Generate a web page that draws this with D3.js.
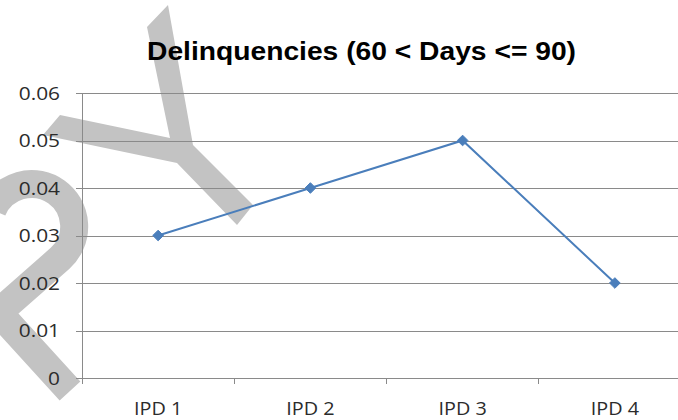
<!DOCTYPE html>
<html>
<head>
<meta charset="utf-8">
<script src="https://cdn.jsdelivr.net/npm/d3@7/dist/d3.min.js"></script>
<style>
  html, body { margin: 0; padding: 0; background: #fff; }
  svg { display: block; }
</style>
</head>
<body>
<svg id="chart" width="678" height="420"></svg>
<script>
const title = "Delinquencies (60 < Days <= 90)";
const categories = ["IPD 1", "IPD 2", "IPD 3", "IPD 4"];
const values = [0.03, 0.04, 0.05, 0.02];
const yTicks = [0, 0.01, 0.02, 0.03, 0.04, 0.05, 0.06];
const yTickLabels = ["0", "0.01", "0.02", "0.03", "0.04", "0.05", "0.06"];

(function () {
const svg = d3.select("#chart");
const W = 678, H = 420;
const pLeft = 82, pRight = 691, pTop = 93, pBottom = 378;
const STRETCH = 1.16;

function stretch(sel, k) {
  sel.each(function () {
    const len = this.getComputedTextLength();
    d3.select(this).attr("textLength", len * k).attr("lengthAdjust", "spacingAndGlyphs");
  });
}

svg.append("rect").attr("width", W).attr("height", H).attr("fill", "#fff");

// watermark (drawn beneath chart)
const wmColor = "#c3c3c3";
const wm = svg.append("g");
wm.append("path")
  .attr("d", "M168,5 L193,145 L253,205 L237,225 L177,163 L43,135 L60,115 L170,138 L147,27 Z")
  .attr("fill", wmColor);
// ring + chevron
const cx = 31.6, cy = 226.6, R = 42.6;
const pt = a => [cx + R * Math.cos(a * Math.PI / 180), cy + R * Math.sin(a * Math.PI / 180)];
const s = pt(203), t = pt(48);
wm.append("path")
  .attr("d", `M${s[0]},${s[1]} A${R},${R} 0 1,1 ${t[0]},${t[1]} L-1.5,312.5 L70,391`)
  .attr("fill", "none").attr("stroke", wmColor).attr("stroke-width", 28)
  .attr("stroke-linecap", "butt").attr("stroke-linejoin", "miter");

const x = d3.scaleBand().domain(categories).range([pLeft, pRight]);
const y = d3.scaleLinear().domain([0, 0.06]).range([pBottom, pTop]);

// gridlines
svg.append("g")
  .attr("transform", `translate(${pLeft},0)`)
  .call(d3.axisLeft(y).tickValues(yTicks).tickSize(-(W - pLeft)).tickFormat(""))
  .call(g => g.select(".domain").remove())
  .call(g => g.selectAll("line").attr("stroke", "#8a8a8a").attr("stroke-width", 1).attr("shape-rendering", "crispEdges"));

// y axis with small outer ticks
const yAxis = svg.append("g")
  .attr("transform", `translate(${pLeft},0)`)
  .call(d3.axisLeft(y).tickValues(yTicks).tickSize(6).tickPadding(16)
    .tickFormat((d, i) => yTickLabels[i]));
yAxis.select(".domain").attr("d", `M0,${pTop}V${pBottom + 6}`).attr("stroke", "#8a8a8a").attr("shape-rendering", "crispEdges");
yAxis.selectAll("line").attr("stroke", "#8a8a8a").attr("shape-rendering", "crispEdges");
yAxis.selectAll("text")
  .attr("font-family", "'Open Sans', sans-serif").attr("font-size", 18)
  .attr("fill", "#2b2b2b").attr("dy", "0.36em")
  .call(stretch, STRETCH);

// x axis with boundary ticks
const xAxis = svg.append("g").attr("transform", `translate(0,${pBottom})`);
xAxis.append("line").attr("x1", pLeft).attr("x2", W).attr("y1", 0).attr("y2", 0)
  .attr("stroke", "#8a8a8a").attr("shape-rendering", "crispEdges");
xAxis.selectAll(".bt").data(categories.slice(1)).join("line")
  .attr("x1", d => x(d)).attr("x2", d => x(d)).attr("y1", 0).attr("y2", 6)
  .attr("stroke", "#8a8a8a").attr("shape-rendering", "crispEdges");
xAxis.selectAll(".lbl").data(categories).join("text")
  .attr("x", d => x(d) + x.bandwidth() / 2).attr("y", 37)
  .attr("text-anchor", "middle")
  .attr("font-family", "'Open Sans', sans-serif").attr("font-size", 18)
  .attr("fill", "#2b2b2b").text(d => d)
  .call(stretch, 1.1);

// line + markers
const color = "#4a7ebb";
const pts = categories.map((c, i) => [x(c) + x.bandwidth() / 2, y(values[i])]);
svg.append("path").datum(pts)
  .attr("d", d3.line())
  .attr("fill", "none").attr("stroke", color).attr("stroke-width", 2);
svg.selectAll(".mk").data(pts).join("path")
  .attr("transform", d => `translate(${d[0]},${d[1]})`)
  .attr("d", d3.symbol(d3.symbolDiamond2, 72)())
  .attr("fill", color).attr("stroke", color).attr("stroke-width", 1);

// title
svg.append("text")
  .attr("x", 361.5).attr("y", 60).attr("text-anchor", "middle")
  .attr("font-family", "'Liberation Sans', Arial, sans-serif")
  .attr("font-weight", "bold").attr("font-size", 25)
  .attr("fill", "#000").text(title)
  .attr("textLength", 429).attr("lengthAdjust", "spacingAndGlyphs");
})();
</script>
</body>
</html>
